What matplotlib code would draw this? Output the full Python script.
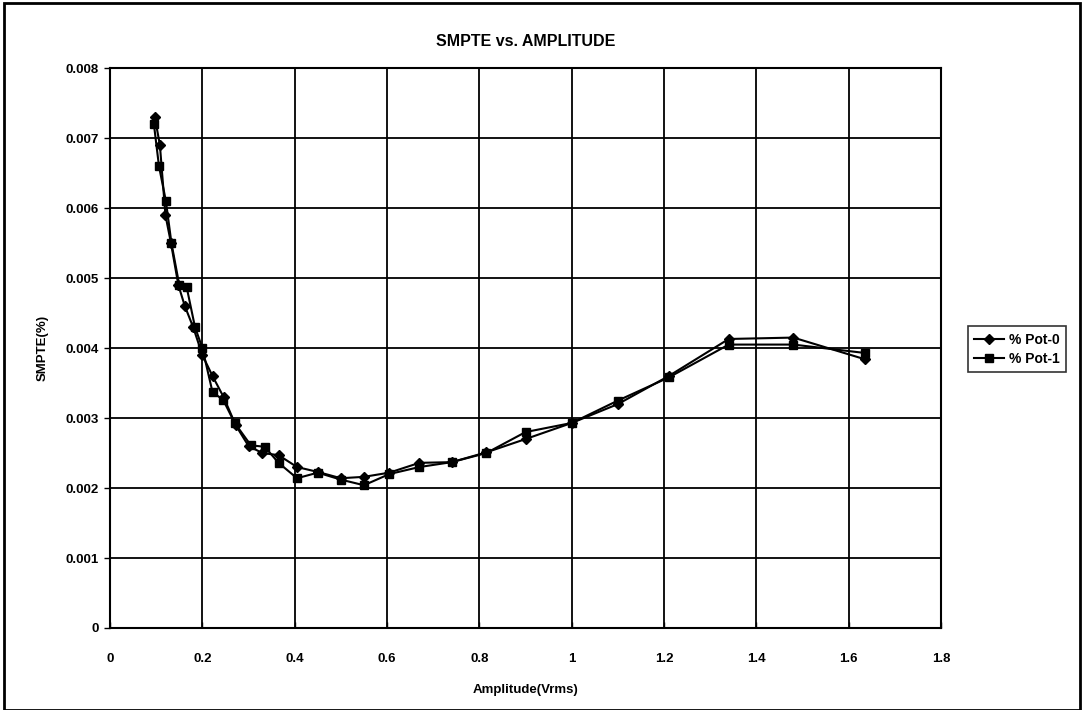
import matplotlib
matplotlib.use("Agg")
import matplotlib.pyplot as plt
from matplotlib.patches import Rectangle
from matplotlib.ticker import FuncFormatter

# valores (Amplitude em Vrms, SMPTE em %)
amp_pot0 = [0.097, 0.108, 0.120, 0.132, 0.148, 0.162, 0.180, 0.200, 0.222, 0.246,
            0.272, 0.300, 0.330, 0.365, 0.405, 0.450, 0.500, 0.550, 0.605, 0.670,
            0.740, 0.815, 0.900, 1.000, 1.100, 1.210, 1.340, 1.480, 1.635]
smpte_pot0 = [0.0073, 0.0069, 0.0059, 0.0055, 0.0049, 0.0046, 0.0043, 0.0039, 0.0036, 0.0033,
              0.0029, 0.0026, 0.0025, 0.00247, 0.0023, 0.00223, 0.00214, 0.00216, 0.00222, 0.00236,
              0.00237, 0.00251, 0.0027, 0.00293, 0.0032, 0.0036, 0.00413, 0.00415, 0.00384]

amp_pot1 = [0.095, 0.106, 0.121, 0.133, 0.150, 0.166, 0.184, 0.200, 0.222, 0.245,
            0.270, 0.305, 0.335, 0.365, 0.405, 0.450, 0.500, 0.550, 0.605, 0.670,
            0.740, 0.815, 0.900, 1.000, 1.100, 1.210, 1.340, 1.480, 1.635]
smpte_pot1 = [0.0072, 0.0066, 0.0061, 0.0055, 0.0049, 0.00487, 0.0043, 0.0040, 0.00337, 0.00326,
              0.00293, 0.00261, 0.00259, 0.00236, 0.00214, 0.00222, 0.00212, 0.00204, 0.0022, 0.0023,
              0.00237, 0.0025, 0.0028, 0.00293, 0.00325, 0.00358, 0.00405, 0.00405, 0.00393]

x_ticks = [0, 0.2, 0.4, 0.6, 0.8, 1.0, 1.2, 1.4, 1.6, 1.8]
y_ticks = [0, 0.001, 0.002, 0.003, 0.004, 0.005, 0.006, 0.007, 0.008]

plt.rcParams['font.family'] = ['Liberation Sans', 'DejaVu Sans']

fig = plt.figure(figsize=(10.83, 7.10), dpi=100)
ax = fig.add_axes([0.1016, 0.1155, 0.7674, 0.7885])

ax.plot(amp_pot0, smpte_pot0, color='black', lw=1.5, marker='D', ms=5, label='% Pot-0')
ax.plot(amp_pot1, smpte_pot1, color='black', lw=1.5, marker='s', ms=5.5, label='% Pot-1')

ax.set_xlim(0, 1.8)
ax.set_ylim(0, 0.008)
ax.set_xticks(x_ticks)
ax.set_yticks(y_ticks)
ax.xaxis.set_major_formatter(FuncFormatter(lambda v, p: '0' if v == 0 else f'{v:g}'))
ax.yaxis.set_major_formatter(FuncFormatter(lambda v, p: '0' if v == 0 else f'{v:.3f}'))
ax.tick_params(axis='x', labelsize=9.5, length=4, width=1, direction='in', pad=18)
ax.tick_params(axis='y', labelsize=9.5, length=4, width=1, direction='out', pad=4)
for lbl in ax.get_xticklabels() + ax.get_yticklabels():
    lbl.set_fontweight('bold')
ax.grid(True, color='black', lw=1.3)
for s in ax.spines.values():
    s.set_linewidth(1.5)

ax.set_title('SMPTE vs. AMPLITUDE', fontsize=11.5, fontweight='bold', pad=16)
ax.set_xlabel('Amplitude(Vrms)', fontsize=9.5, fontweight='bold', labelpad=14)
ax.set_ylabel('SMPTE(%)', fontsize=9.5, fontweight='bold', labelpad=12)

leg = fig.legend(loc='upper left', bbox_to_anchor=(0.887, 0.550),
                 prop={'size': 10, 'weight': 'bold'},
                 frameon=True, fancybox=False, edgecolor='black', handlelength=2.2,
                 borderpad=0.45, labelspacing=0.35, handletextpad=0.3)
leg.get_frame().set_linewidth(1.2)

# moldura externa
fig.patches.append(Rectangle((0.004, 0.0), 0.993, 0.996, transform=fig.transFigure,
                             fill=False, edgecolor='black', lw=2))

fig.savefig('out.png', dpi=100)
